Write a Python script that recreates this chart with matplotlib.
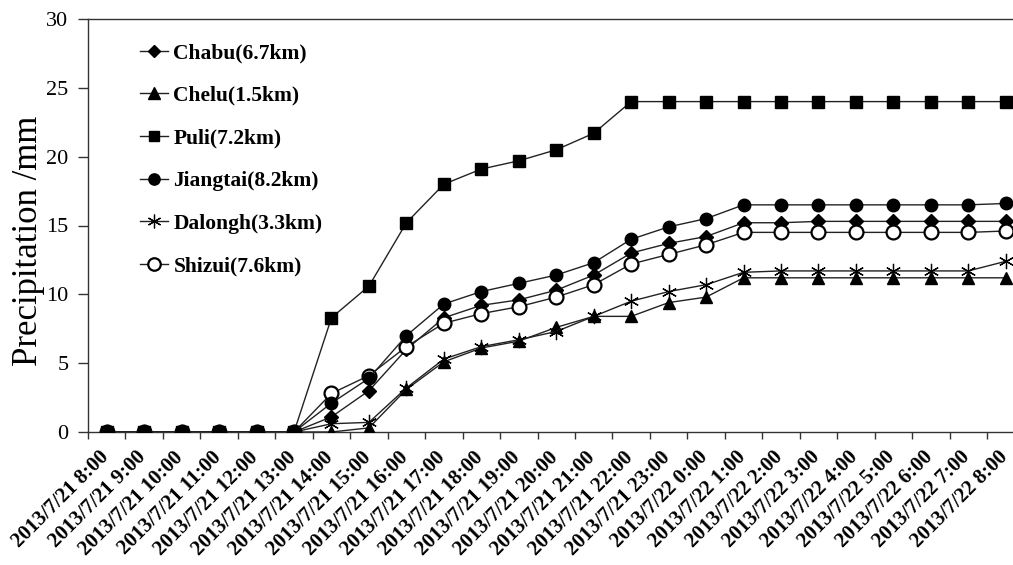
import numpy as np
import matplotlib.pyplot as plt
from matplotlib.ticker import FixedLocator

# hourly cumulative precipitation at six stations, 2013/7/21 8:00 - 2013/7/22 8:00
times = ['2013/7/21 %d:00' % h for h in range(8, 24)] + ['2013/7/22 %d:00' % h for h in range(0, 9)]

chabu = [0, 0, 0, 0, 0, 0, 1.1, 3.0, 6.0, 8.3, 9.2, 9.6, 10.3, 11.4, 13.0, 13.7,
         14.2, 15.2, 15.2, 15.3, 15.3, 15.3, 15.3, 15.3, 15.3]
chelu = [0, 0, 0, 0, 0, 0, 0, 0.3, 3.1, 5.1, 6.1, 6.6, 7.6, 8.4, 8.4, 9.4,
         9.8, 11.2, 11.2, 11.2, 11.2, 11.2, 11.2, 11.2, 11.2]
puli = [0, 0, 0, 0, 0, 0, 8.3, 10.6, 15.2, 18.0, 19.1, 19.7, 20.5, 21.7, 24.0, 24.0,
        24.0, 24.0, 24.0, 24.0, 24.0, 24.0, 24.0, 24.0, 24.0]
jiangtai = [0, 0, 0, 0, 0, 0, 2.1, 3.9, 7.0, 9.3, 10.2, 10.8, 11.4, 12.3, 14.0, 14.9,
            15.5, 16.5, 16.5, 16.5, 16.5, 16.5, 16.5, 16.5, 16.6]
dalongh = [0, 0, 0, 0, 0, 0, 0.6, 0.7, 3.2, 5.3, 6.2, 6.7, 7.3, 8.4, 9.5, 10.2,
           10.7, 11.6, 11.7, 11.7, 11.7, 11.7, 11.7, 11.7, 12.4]
shizui = [0, 0, 0, 0, 0, 0, 2.8, 4.1, 6.2, 7.9, 8.6, 9.1, 9.8, 10.7, 12.2, 12.9,
          13.6, 14.5, 14.5, 14.5, 14.5, 14.5, 14.5, 14.5, 14.6]

x = np.arange(len(times))

fig = plt.figure(figsize=(10.13, 5.65), dpi=100)
ax = fig.add_axes([88/1013, 1-432/565, 1-88/1013, (432-19)/565])

lc = '#222222'
kw = dict(color=lc, lw=1.0, mec='black', mfc='black')
h1, = ax.plot(x, chabu, marker='D', ms=7, label='Chabu(6.7km)', zorder=3, **kw)
h2, = ax.plot(x, chelu, marker='^', ms=9, label='Chelu(1.5km)', zorder=3, **kw)
h3, = ax.plot(x, puli, marker='s', ms=8.5, label='Puli(7.2km)', zorder=3, **kw)
h5, = ax.plot(x, dalongh, marker=(6, 2, 0), ms=11, mew=0.9, color=lc, lw=1.0,
              mec='black', label='Dalongh(3.3km)', zorder=3)
h6, = ax.plot(x, shizui, marker='o', ms=10, mew=1.6, color=lc, lw=1.0,
              mec='black', mfc='white', label='Shizui(7.6km)', zorder=3)
h4, = ax.plot(x, jiangtai, marker='o', ms=9, label='Jiangtai(8.2km)', zorder=4, **kw)

ax.set_xlim(-0.5, -0.5 + (1013-88)/37.46)
ax.set_ylim(0, 30)
ax.set_yticks(np.arange(0, 31, 5))

# labels sit a little left of each category centre, as in the original
ax.set_xticks(x - 0.22)
ax.set_xticklabels(times, rotation=45, ha='right', rotation_mode='anchor',
                   family='Liberation Serif', fontweight='bold', fontsize=15)
ax.xaxis.set_minor_locator(FixedLocator(np.arange(-0.5, 25, 1)))
ax.tick_params(axis='x', which='major', length=0, pad=11)
ax.tick_params(axis='x', which='minor', length=5, width=1, direction='out', color='#333333')
ax.tick_params(axis='y', length=7, width=1, direction='out', pad=7, color='#333333')
for t in ax.get_yticklabels():
    t.set_family('Liberation Serif')
    t.set_fontsize(16)

for s in ['left', 'bottom', 'top']:
    ax.spines[s].set_color('#333333')
    ax.spines[s].set_linewidth(1.0)
ax.spines['right'].set_visible(False)

ax.set_ylabel('Precipitation /mm', family='Liberation Serif', fontsize=25)
ax.yaxis.set_label_coords((45-88)/925, (432-241)/413)

leg = ax.legend(handles=[h1, h2, h3, h4, h5, h6], loc='upper left',
                bbox_to_anchor=(140/1013, 1-43/565), bbox_transform=fig.transFigure,
                frameon=False, borderpad=0, borderaxespad=0, labelspacing=1.05,
                handlelength=1.3, handletextpad=0.25, markerscale=0.9,
                prop={'family': 'Liberation Serif', 'weight': 'bold', 'size': 15.5})

fig.savefig('out.png', dpi=100)
